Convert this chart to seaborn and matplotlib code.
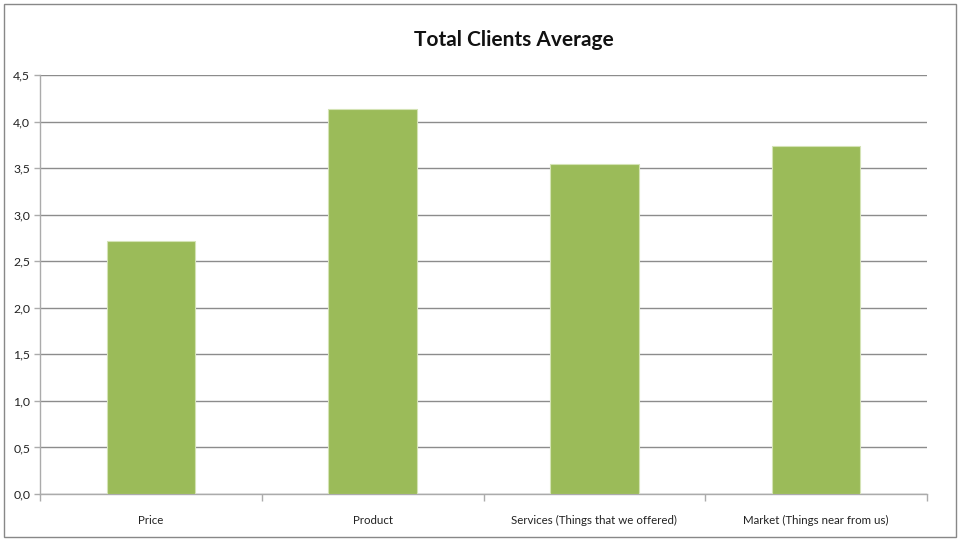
import matplotlib
matplotlib.use("Agg")
import matplotlib.pyplot as plt
import seaborn as sns
import pandas as pd
from matplotlib.patches import Rectangle
from matplotlib.ticker import FuncFormatter, FixedLocator

categories = ["Price", "Product", "Services (Things that we offered)", "Market (Things near from us)"]
averages = [2.72, 4.13, 3.54, 3.74]
y_ticks = [0.0, 0.5, 1.0, 1.5, 2.0, 2.5, 3.0, 3.5, 4.0, 4.5]

sns.set_theme(style="white")
plt.rcParams["font.family"] = ["Lato", "DejaVu Sans"]

df = pd.DataFrame({"category": categories, "average": averages})

W, H = 961, 541
fig = plt.figure(figsize=(W / 100, H / 100), dpi=100)
ax = fig.add_axes([40 / W, (H - 494) / H, (927 - 40) / W, (494 - 75) / H])

sns.barplot(data=df, x="category", y="average", color="#9BBB59", width=0.4,
            saturation=1, edgecolor="#D4E3B5", linewidth=0.8, ax=ax, zorder=3)

grid_c = "#8C8C8C"
ax.set_ylim(0, 4.5)
ax.set_xlim(-0.5, len(categories) - 0.5)
ax.yaxis.set_major_locator(FixedLocator(y_ticks))
ax.yaxis.set_major_formatter(FuncFormatter(lambda v, p: f"{v:.1f}".replace(".", ",")))
ax.yaxis.grid(True, color=grid_c, linewidth=1, zorder=0)
ax.set_axisbelow(True)

for s in ["top", "right"]:
    ax.spines[s].set_visible(False)
for s in ["left", "bottom"]:
    ax.spines[s].set_color("#ABABAB")
    ax.spines[s].set_linewidth(1)

ax.tick_params(axis="y", which="major", direction="out", length=4, width=1,
               color="#ABABAB", labelsize=8.8, pad=3, labelcolor="#222222", left=True)
ax.tick_params(axis="x", which="major", length=0, labelsize=8.3, pad=15, labelcolor="#222222")
ax.set_xticks([i - 0.5 for i in range(len(categories) + 1)], minor=True)
ax.tick_params(axis="x", which="minor", direction="out", length=5, width=1,
               color="#ABABAB", bottom=True)
ax.set_xlabel("")
ax.set_ylabel("")

fig.text(514 / W, 1 - 40 / H, "Total Clients Average", ha="center", va="center",
         fontsize=15, fontweight="bold", color="#111111")

fig.patches.append(Rectangle((4 / W, 4 / H), (956 - 4) / W, (537 - 4) / H,
                             transform=fig.transFigure, fill=False,
                             edgecolor="#888888", linewidth=1))

fig.savefig("out.png", dpi=100, facecolor="white")
